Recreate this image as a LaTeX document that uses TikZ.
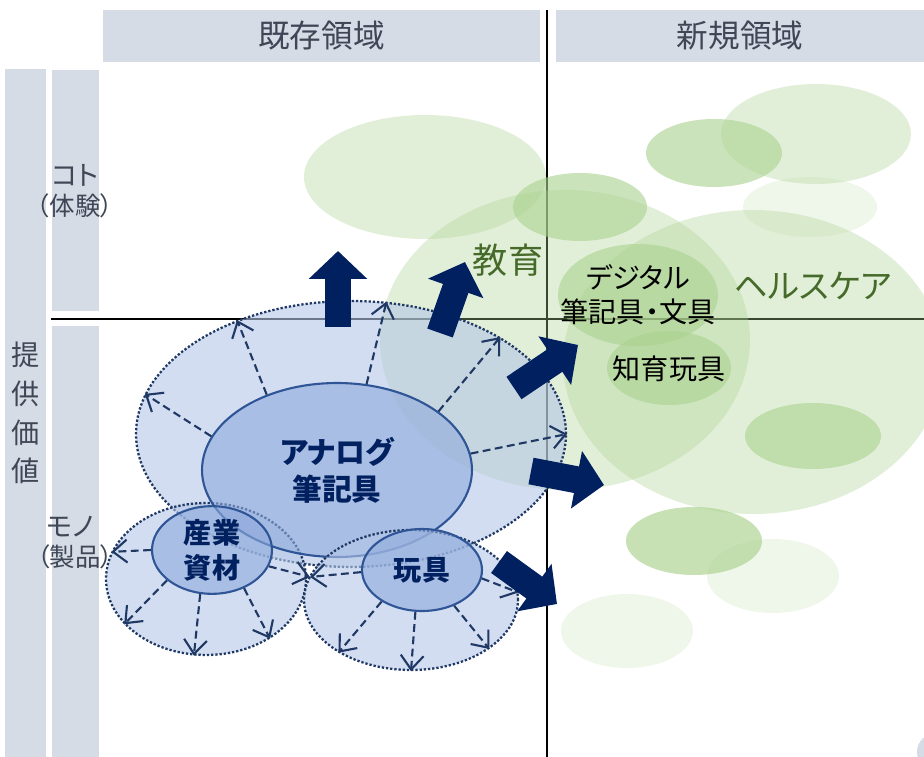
\documentclass[tikz,border=0pt]{standalone}
\usepackage{fontspec}
\setmainfont{Noto Sans CJK JP}[RawFeature=+palt]
\usetikzlibrary{arrows.meta,shapes.geometric,positioning}
\definecolor{headgray}{HTML}{D6DCE5}
\definecolor{labelgray}{HTML}{3F4757}
\definecolor{navy}{HTML}{002060}
\definecolor{darknavy}{HTML}{1F3864}
\definecolor{rimblue}{HTML}{2F5597}
\definecolor{zoneblue}{HTML}{B4C7E7}
\definecolor{coreblue}{HTML}{8FAADC}
\definecolor{leafgreen}{HTML}{A9D18E}
\definecolor{textgreen}{HTML}{466A2A}
\tikzstyle{header} = [rectangle, fill=headgray, text=labelgray, inner sep=0pt, font=\fontsize{18}{20}\selectfont]
\tikzstyle{bar} = [rectangle, fill=headgray, inner sep=0pt]
\tikzstyle{axis label} = [text=labelgray, inner sep=0pt, font=\fontsize{15.5}{17}\selectfont]
\tikzstyle{zone} = [ellipse, draw=darknavy, line width=1.3pt, dash pattern=on 1.3pt off 1.1pt, fill=zoneblue, fill opacity=0.6, text opacity=1, inner sep=0pt]
\tikzstyle{core} = [ellipse, draw=rimblue, line width=1.2pt, fill=coreblue, fill opacity=0.6, text opacity=1, inner sep=0pt, text=navy, align=center]
\tikzstyle{spread} = [draw=darknavy, line width=1.2pt, dash pattern=on 4.5pt off 2.5pt, -{Straight Barb[length=8pt,width=13pt]}]
\tikzstyle{push} = [draw=navy, line width=0.54cm, -{Triangle[width=1.14cm,length=0.56cm]}]
\tikzstyle{field} = [text=textgreen, inner sep=0pt, font=\fontsize{20}{22}\selectfont]
\tikzstyle{item} = [text=black, inner sep=0pt, align=center, font=\fontsize{16}{19.5}\selectfont]

\begin{document}
\begin{tikzpicture}[x=0.02cm, y=-0.02cm]
    \useasboundingbox (0,0) rectangle (924,757);
    % Headers and side bars
    \node[header, minimum width=8.74cm, minimum height=1.04cm] (existhead) at (321.5,36) {既存領域};
    \node[header, minimum width=7.36cm, minimum height=1.04cm] (newhead) at (740,36) {新規領域};
    \node[bar, minimum width=0.82cm, minimum height=13.76cm, text=labelgray, align=center,
          font=\fontsize{16}{22}\selectfont] (valuebar) at (25.5,413) {提\\供\\価\\値};
    \node[bar, minimum width=0.94cm, minimum height=4.82cm] (kotobar) at (75.5,190.5) {};
    \node[bar, minimum width=0.94cm, minimum height=8.62cm] (monobar) at (75.5,541.5) {};
    \node[axis label] (koto) at (75,175) {コト};
    \node[axis label, below=4pt of koto, font=\fontsize{14.5}{16}\selectfont] (taiken) {（体験）};
    \node[axis label] (mono) at (70,527) {モノ};
    \node[axis label, below=4pt of mono, font=\fontsize{14.5}{16}\selectfont, xshift=3pt] (seihin) {（製品）};
    \fill[headgray] (936,752) circle (19);

    % The two axes
    \draw[line width=1.3pt] (51,319) -- (924,319);
    \draw[line width=1.3pt] (547,10) -- (547,757);

    % Green fields of the new domain
    \foreach \pos/\rx/\ry/\op in {{(425,177)/121/62/0.34}, {(565,340)/185/150/0.34}, {(753,362)/190/152/0.34},
        {(816,134)/95/50/0.34}, {(714,153)/68/34/0.6}, {(810,207)/67/30/0.18}, {(580,207)/67/34/0.6},
        {(638,295)/80/51/0.6}, {(669,368)/62/37/0.6}, {(813,436)/68/33/0.6}, {(694,541)/68/34/0.65},
        {(773,576)/66/37/0.18}, {(627,631)/66/37/0.18}}
        \fill[leafgreen, opacity=\op] \pos ellipse ({\rx} and {\ry});
    \node[field] (edu) at (508,260) {教育};
    \node[field, font=\fontsize{19}{22}\selectfont] (health) at (813,286) {ヘルスケア};
    \node[item] (digital) at (638,295) {デジタル\\筆記具・文具};
    \node[item] (chiiku) at (669,369) {知育玩具};

    % Blue zones and cores
    \node[zone, minimum width=8.6cm, minimum height=5.32cm] (analogzone) at (351,434) {};
    \node[zone, minimum width=4.0cm, minimum height=3.04cm] (sangyozone) at (206,579) {};
    \node[core, minimum width=5.4cm, minimum height=3.48cm, font=\bfseries\fontsize{17}{21}\selectfont] (analog) at (337,470) {アナログ\\筆記具};
    \node[zone, minimum width=4.28cm, minimum height=2.8cm] (toyzone) at (411,600) {};
    \node[core, minimum width=2.4cm, minimum height=1.68cm, font=\bfseries\fontsize{16}{20}\selectfont] (sangyo) at (212,550) {産業\\資材};
    \node[core, minimum width=2.4cm, minimum height=1.64cm, font=\bfseries\fontsize{16}{20}\selectfont] (toy) at (422,570) {玩具};
    \coordinate (meet) at (310,577);

    % Spreading arrows
    \foreach \source/\dest in {analog.133/analogzone.135, analog.71/analogzone.75, analog.30/analogzone.33,
        analog.7/analogzone.0, analog.165/analogzone.169, sangyo.180/sangyozone.164, sangyo.214/sangyozone.209,
        sangyo.255/sangyozone.261, sangyo.310/sangyozone.317, sangyo.344/meet, toy.182/meet,
        toy.218/toyzone.216, toy.261/toyzone.270, toy.312/toyzone.328, toy.352/toyzone.4}
        \path[spread] (\source) -- (\dest);

    % Big arrows into the new domain
    \coordinate (pushup s) at (338,327);      \coordinate (pushup t) at (338,251);
    \coordinate (pushedu s) at (440,333);     \coordinate (pushedu t) at (465,262);
    \coordinate (pushdigi s) at (514,388);    \coordinate (pushdigi t) at (578,345);
    \coordinate (pushhealth s) at (531,471);  \coordinate (pushhealth t) at (604,485);
    \coordinate (pushnew s) at (499,562);     \coordinate (pushnew t) at (557,604);
    \foreach \name in {pushup, pushedu, pushdigi, pushhealth, pushnew}
        \path[push] (\name\space s) -- (\name\space t);
\end{tikzpicture}
\end{document}
